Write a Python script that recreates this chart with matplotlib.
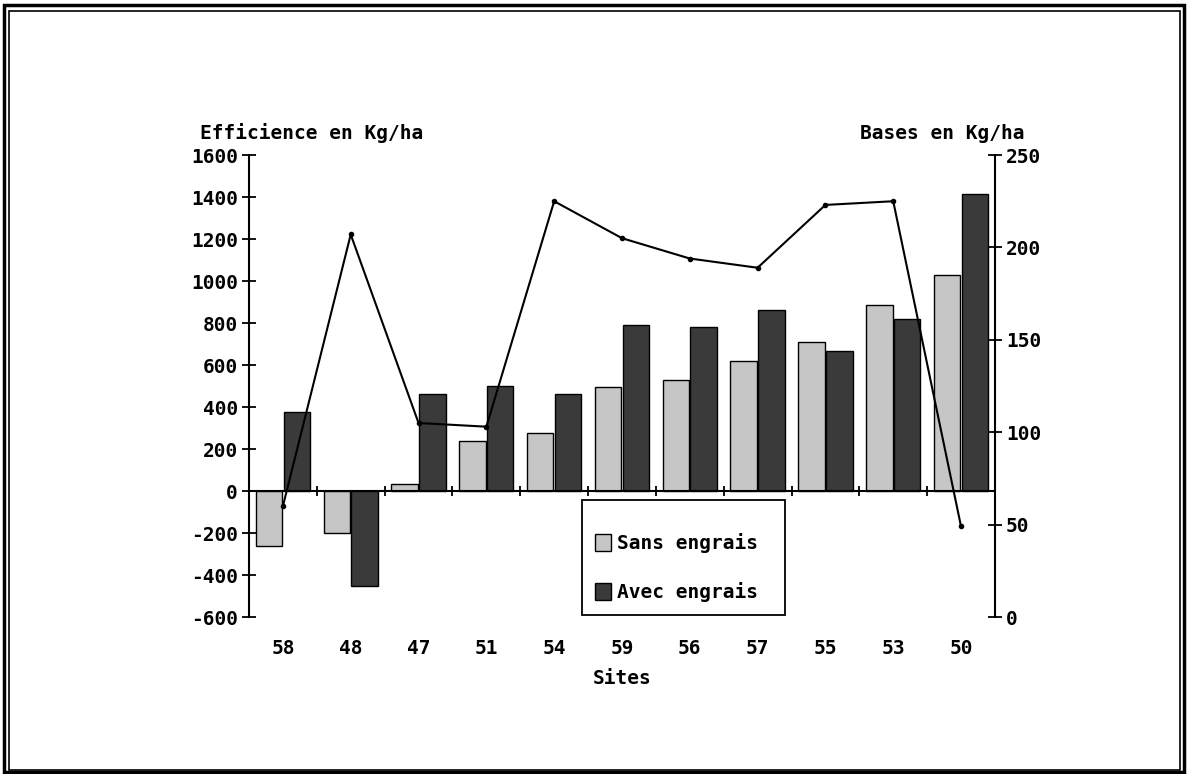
import numpy as np
import matplotlib
matplotlib.use("Agg")
import matplotlib.pyplot as plt
from matplotlib.patches import Rectangle, Patch

SITES = ["58", "48", "47", "51", "54", "59", "56", "57", "55", "53", "50"]
SANS_ENGRAIS = [-260, -200, 35, 240, 275, 495, 528, 617, 710, 885, 1030]
AVEC_ENGRAIS = [375, -450, 460, 500, 460, 790, 782, 863, 665, 817, 1415]
BASES = [60, 207, 105, 103, 225, 205, 194, 189, 223, 225, 49]

plt.rcParams["font.family"] = ["DejaVu Sans Mono"]
plt.rcParams["font.weight"] = "bold"
plt.rcParams["axes.labelweight"] = "bold"
plt.rcParams["axes.unicode_minus"] = False
plt.rcParams["font.size"] = 14

fig = plt.figure(figsize=(11.88, 7.74), dpi=100)
ax = fig.add_axes([0.2096, 0.2028, 0.6279, 0.5969])

x = np.arange(len(SITES))
w = 0.39
ax.bar(x - w / 2 - 0.01, SANS_ENGRAIS, w, color="#c6c6c6", edgecolor="black", linewidth=1)
ax.bar(x + w / 2 + 0.01, AVEC_ENGRAIS, w, color="#3a3a3a", edgecolor="black", linewidth=1)

ax.set_xlim(-0.5, len(SITES) - 0.5)
ax.set_ylim(-600, 1600)
ax.set_yticks(np.arange(-600, 1601, 200))
ax.axhline(0, color="black", lw=1.5)
ax.vlines(x[1:] - 0.5, -22, 22, color="black", lw=1.3)

ax.set_xticks(x, SITES)
ax.tick_params(axis="x", length=0, pad=16)
ax.tick_params(axis="y", direction="inout", length=10, width=1.3, pad=3)
for s in ["top", "bottom", "right"]:
    ax.spines[s].set_visible(False)
ax.spines["left"].set_linewidth(1.5)
ax.set_xlabel("Sites", labelpad=8)

ax2 = ax.twinx()
ax2.plot(x, BASES, color="black", lw=1.5, marker="o", markersize=3)
ax2.set_ylim(0, 250)
ax2.set_yticks(np.arange(0, 251, 50))
ax2.tick_params(axis="y", direction="inout", length=10, width=1.3, pad=3)
for s in ["top", "bottom", "left"]:
    ax2.spines[s].set_visible(False)
ax2.spines["right"].set_linewidth(1.5)

fig.text(0.168, 0.828, "Efficience en Kg/ha", ha="left", va="center")
fig.text(0.862, 0.828, "Bases en Kg/ha", ha="right", va="center")

# legend: frame drawn separately so the entries can sit low in the box
fig.patches.append(Rectangle((0.49, 0.2054), 0.171, 0.1486, transform=fig.transFigure,
                             facecolor="white", edgecolor="black", lw=1.3, zorder=3))
handles = [Patch(facecolor="#c6c6c6", edgecolor="black"),
           Patch(facecolor="#3a3a3a", edgecolor="black")]
leg = fig.legend(handles, ["Sans engrais", "Avec engrais"],
                 loc="center left", bbox_to_anchor=(0.501, 0.2668),
                 frameon=False, handlelength=0.8, handleheight=1.0,
                 handletextpad=0.3, labelspacing=1.5, borderpad=0,
                 borderaxespad=0)
leg.set_zorder(4)

# double border round the page
fig.patches.append(Rectangle((0.003, 0.003), 0.994, 0.991, transform=fig.transFigure,
                             fill=False, edgecolor="black", lw=2.5))
fig.patches.append(Rectangle((0.0075, 0.005), 0.986, 0.981, transform=fig.transFigure,
                             fill=False, edgecolor="black", lw=1.2))

fig.savefig("out.png", dpi=100)
